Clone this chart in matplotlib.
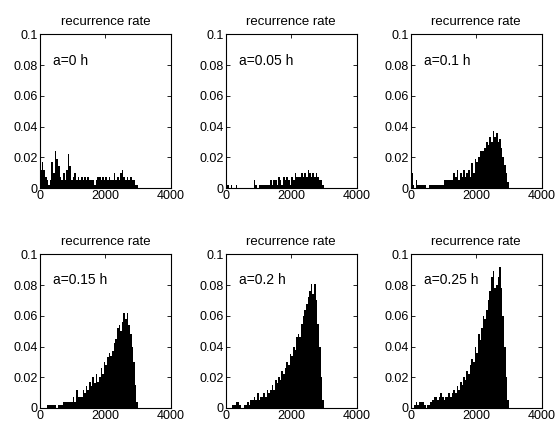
import numpy as np
import matplotlib
matplotlib.use("Agg")
import matplotlib.pyplot as plt

plt.rcParams['font.family'] = ['Liberation Sans', 'DejaVu Sans']

# bin left edges, 50 wide, 0..3000
bin_edges = np.arange(0, 3000, 50)

labels = ["a=0 h", "a=0.05 h", "a=0.1 h", "a=0.15 h", "a=0.2 h", "a=0.25 h"]

rate_a000 = [0.012, 0.017, 0.012, 0.007, 0.005, 0.002, 0.005, 0.017, 0.010, 0.024,
             0.019, 0.014, 0.007, 0.005, 0.010, 0.005, 0.012, 0.022, 0.014, 0.005,
             0.007, 0.010, 0.005, 0.007, 0.005, 0.007, 0.005, 0.007, 0.005, 0.007,
             0.005, 0.005, 0.005, 0.002, 0.005, 0.007, 0.007, 0.005, 0.007, 0.005,
             0.007, 0.005, 0.007, 0.005, 0.005, 0.010, 0.005, 0.007, 0.005, 0.010,
             0.012, 0.007, 0.005, 0.007, 0.005, 0.007, 0.005, 0.005, 0.002, 0.002]
rate_a005 = [0.005, 0.002, 0.000, 0.002, 0.000, 0.000, 0.002, 0.000, 0.000, 0.000,
             0.000, 0.000, 0.000, 0.000, 0.000, 0.000, 0.000, 0.005, 0.002, 0.000,
             0.002, 0.002, 0.002, 0.002, 0.002, 0.002, 0.002, 0.005, 0.002, 0.005,
             0.005, 0.002, 0.007, 0.005, 0.002, 0.007, 0.005, 0.007, 0.005, 0.002,
             0.007, 0.005, 0.010, 0.007, 0.007, 0.007, 0.010, 0.007, 0.010, 0.007,
             0.012, 0.010, 0.007, 0.010, 0.007, 0.010, 0.007, 0.005, 0.005, 0.002]
rate_a010 = [0.010, 0.002, 0.000, 0.005, 0.002, 0.002, 0.002, 0.002, 0.002, 0.000,
             0.000, 0.002, 0.002, 0.002, 0.002, 0.002, 0.002, 0.002, 0.002, 0.002,
             0.005, 0.005, 0.005, 0.005, 0.005, 0.005, 0.010, 0.007, 0.012, 0.005,
             0.010, 0.007, 0.012, 0.007, 0.010, 0.012, 0.007, 0.016, 0.010, 0.019,
             0.017, 0.020, 0.024, 0.024, 0.024, 0.026, 0.030, 0.028, 0.033, 0.030,
             0.037, 0.033, 0.036, 0.030, 0.032, 0.026, 0.020, 0.015, 0.010, 0.004]
rate_a015 = [0.000, 0.000, 0.000, 0.000, 0.002, 0.002, 0.002, 0.002, 0.002, 0.002,
             0.000, 0.002, 0.002, 0.002, 0.004, 0.004, 0.004, 0.004, 0.004, 0.004,
             0.007, 0.004, 0.012, 0.007, 0.007, 0.007, 0.012, 0.010, 0.014, 0.012,
             0.017, 0.014, 0.020, 0.016, 0.022, 0.017, 0.020, 0.026, 0.022, 0.030,
             0.028, 0.033, 0.036, 0.034, 0.037, 0.042, 0.045, 0.052, 0.054, 0.050,
             0.056, 0.062, 0.058, 0.062, 0.054, 0.048, 0.040, 0.030, 0.015, 0.004]
rate_a020 = [0.000, 0.000, 0.000, 0.000, 0.002, 0.002, 0.004, 0.004, 0.002, 0.000,
             0.000, 0.002, 0.002, 0.004, 0.002, 0.005, 0.005, 0.007, 0.005, 0.010,
             0.005, 0.007, 0.007, 0.010, 0.007, 0.012, 0.010, 0.012, 0.015, 0.012,
             0.018, 0.016, 0.020, 0.018, 0.024, 0.022, 0.026, 0.030, 0.028, 0.035,
             0.034, 0.040, 0.038, 0.046, 0.048, 0.046, 0.055, 0.060, 0.064, 0.068,
             0.072, 0.076, 0.081, 0.074, 0.081, 0.070, 0.055, 0.040, 0.020, 0.005]
rate_a025 = [0.000, 0.000, 0.002, 0.004, 0.002, 0.004, 0.004, 0.004, 0.002, 0.000,
             0.002, 0.002, 0.004, 0.005, 0.007, 0.007, 0.005, 0.007, 0.010, 0.007,
             0.005, 0.007, 0.007, 0.010, 0.007, 0.010, 0.012, 0.010, 0.014, 0.012,
             0.017, 0.015, 0.020, 0.018, 0.024, 0.022, 0.028, 0.032, 0.030, 0.040,
             0.036, 0.048, 0.044, 0.052, 0.060, 0.058, 0.064, 0.070, 0.076, 0.085,
             0.089, 0.078, 0.080, 0.085, 0.092, 0.078, 0.060, 0.040, 0.020, 0.005]

rates = [rate_a000, rate_a005, rate_a010, rate_a015, rate_a020, rate_a025]

xticks = [0, 2000, 4000]
yticks = [0, 0.02, 0.04, 0.06, 0.08, 0.1]
yticklabels = ["0", "0.02", "0.04", "0.06", "0.08", "0.1"]

fig = plt.figure(figsize=(5.59, 4.22), dpi=100)

lefts = [0.0716, 0.404, 0.735]
bottoms = [0.5545, 0.0332]
w, h = 0.234, 0.364

for i in range(6):
    r, c = divmod(i, 3)
    ax = fig.add_axes([lefts[c], bottoms[r], w, h])
    ax.bar(bin_edges, rates[i], width=50, align='edge', color='k', linewidth=0)
    ax.set_xlim(0, 4000)
    ax.set_ylim(0, 0.1)
    ax.set_xticks(xticks)
    ax.set_xticklabels([str(t) for t in xticks])
    ax.set_yticks(yticks)
    ax.set_yticklabels(yticklabels)
    ax.tick_params(direction='in', length=3, width=0.6, labelsize=9,
                   top=True, right=True, pad=1.5)
    for s in ax.spines.values():
        s.set_linewidth(0.8)
    ax.set_title("recurrence rate", fontsize=9.5, pad=7)
    ax.text(400, 0.083, labels[i], fontsize=10, va='center', ha='left')

fig.savefig("out.png", dpi=100)
